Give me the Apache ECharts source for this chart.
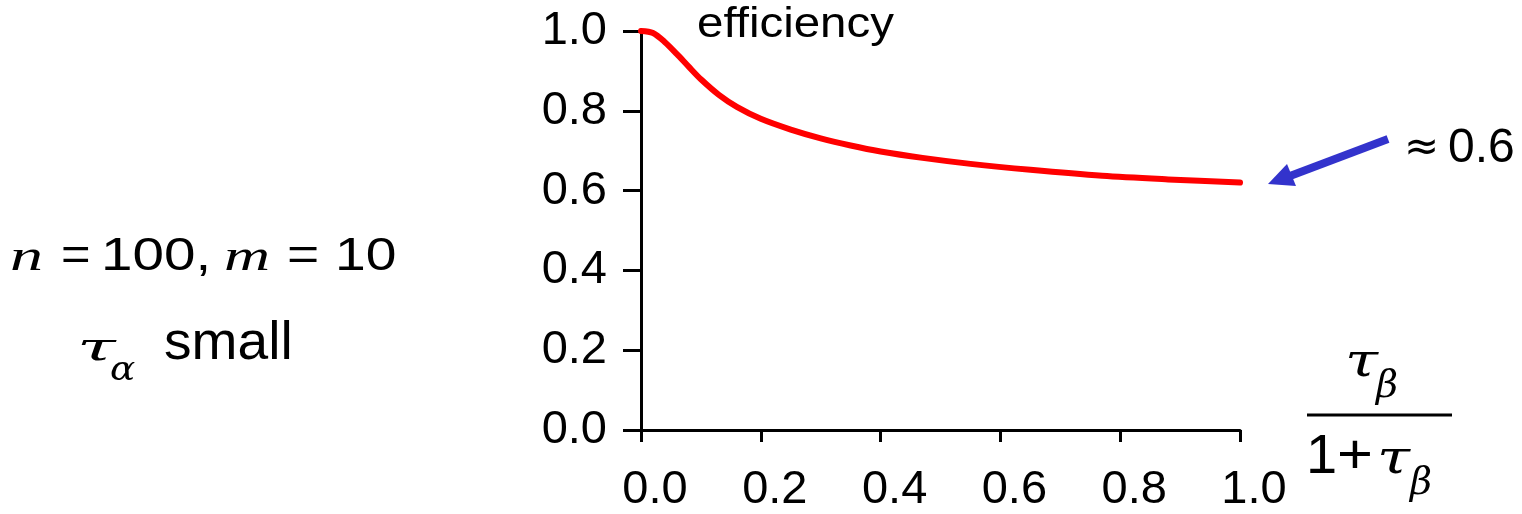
<!DOCTYPE html>
<html>
<head>
<meta charset="utf-8">
<script src="https://cdn.jsdelivr.net/npm/echarts@6/dist/echarts.min.js"></script>
<style>
html,body{margin:0;padding:0;background:#fff;}
#main{width:1522px;height:514px;}
</style>
</head>
<body>
<div id="main"></div>
<script>
var xValues = [0, 0.02, 0.04, 0.06, 0.08, 0.1, 0.13, 0.16, 0.2, 0.25, 0.3, 0.35, 0.4, 0.47, 0.55, 0.65, 0.77, 0.88, 1.0];
var efficiency = [1.0, 0.995, 0.972, 0.942, 0.910, 0.879, 0.840, 0.810, 0.780, 0.753, 0.731, 0.713, 0.698, 0.682, 0.667, 0.652, 0.637, 0.628, 0.620];
var xTickLabels = ['0.0', '0.2', '0.4', '0.6', '0.8', '1.0'];
var yTickLabels = ['0.0', '0.2', '0.4', '0.6', '0.8', '1.0'];

var SANS = '"Liberation Sans", Arial, sans-serif';
var SERIF = '"Liberation Serif", "Times New Roman", serif';
var GREEK = '"DejaVu Serif", serif';
var DEJAVU = '"DejaVu Sans", sans-serif';

var chart = echarts.init(document.getElementById('main'), null, {renderer: 'canvas'});
var data = xValues.map(function (x, i) { return [x, efficiency[i]]; });

// text placed by left edge and alphabetic baseline
function t(x, baseline, text, size, family, italic, scaleX) {
  var k = family === SERIF ? 0.3375 : 0.3465;
  return {
    type: 'text', silent: true,
    x: x, y: baseline - k * size,
    scaleX: scaleX || 1,
    style: {
      text: text,
      fill: '#000',
      font: (italic ? 'italic ' : '') + size + 'px ' + family,
      align: 'left',
      verticalAlign: 'middle'
    }
  };
}

chart.setOption({
  animation: false,
  backgroundColor: '#fff',
  grid: {left: 641, right: 282, top: 31, bottom: 84, containLabel: false},
  xAxis: {
    type: 'value', min: 0, max: 1, interval: 0.2,
    axisLine: {show: true, onZero: false, lineStyle: {color: '#000', width: 3}},
    axisTick: {show: true, length: 12, inside: false, lineStyle: {color: '#000', width: 3}},
    splitLine: {show: false},
    axisLabel: {
      margin: 37, color: '#000', fontSize: 47, fontFamily: SANS,
      padding: [0, 0, 0, 28],
      formatter: function (v) { return xTickLabels[Math.round(v / 0.2)]; }
    }
  },
  yAxis: {
    type: 'value', min: 0, max: 1, interval: 0.2,
    axisLine: {show: true, onZero: false, lineStyle: {color: '#000', width: 3}},
    axisTick: {show: true, length: 18, inside: false, lineStyle: {color: '#000', width: 3}},
    splitLine: {show: false},
    axisLabel: {
      margin: 34, color: '#000', fontSize: 47, fontFamily: SANS,
      formatter: function (v) { return yTickLabels[Math.round(v / 0.2)]; }
    }
  },
  series: [{
    type: 'line',
    data: data,
    smooth: 0.3,
    showSymbol: false,
    lineStyle: {color: '#ff0000', width: 6, join: 'round', cap: 'round'},
    z: 5
  }],
  graphic: [
    t(697, 40, 'efficiency', 42, SANS, false, 1.13),
    // arrow
    {
      type: 'line', silent: true,
      shape: {x1: 1388, y1: 139, x2: 1290, y2: 176},
      style: {stroke: '#3333cc', lineWidth: 8}
    },
    {
      type: 'polygon', silent: true,
      shape: {points: [[1268, 184], [1287, 164], [1296, 186]]},
      style: {fill: '#3333cc'}
    },
    t(1404, 164, '\u2248', 42, DEJAVU, false, 1),
    t(1448, 165, '0.6', 48, SANS, false, 1),
    // left annotation, line 1
    t(10, 273, 'n', 44, SERIF, true, 1.5),
    t(61, 273, '=', 46, SANS, false, 1.1),
    t(101, 273, '100,', 46, SANS, false, 1.23),
    t(224, 273, 'm', 44, SERIF, true, 1.45),
    t(287, 273, '=', 46, SANS, false, 1.2),
    t(335, 273, '10', 46, SANS, false, 1.2),
    // left annotation, line 2
    t(77, 363, '\u03C4', 40, GREEK, true, 1.75),
    t(110, 383, '\u03B1', 34, GREEK, true, 1.1),
    t(164, 363, 'small', 53, SANS, false, 1.04),
    // x-axis name: fraction
    t(1345, 380, '\u03C4', 46, GREEK, true, 1.3),
    t(1376, 400, '\u03B2', 38, GREEK, true, 1.0),
    {
      type: 'line', silent: true,
      shape: {x1: 1307, y1: 415, x2: 1452, y2: 415},
      style: {stroke: '#000', lineWidth: 3}
    },
    t(1306, 477, '1', 56, SANS, false, 1),
    t(1337, 477, '+', 56, SANS, false, 1.1),
    t(1377, 477, '\u03C4', 46, GREEK, true, 1.3),
    t(1410, 497, '\u03B2', 38, GREEK, true, 1.0)
  ]
});
</script>
</body>
</html>
